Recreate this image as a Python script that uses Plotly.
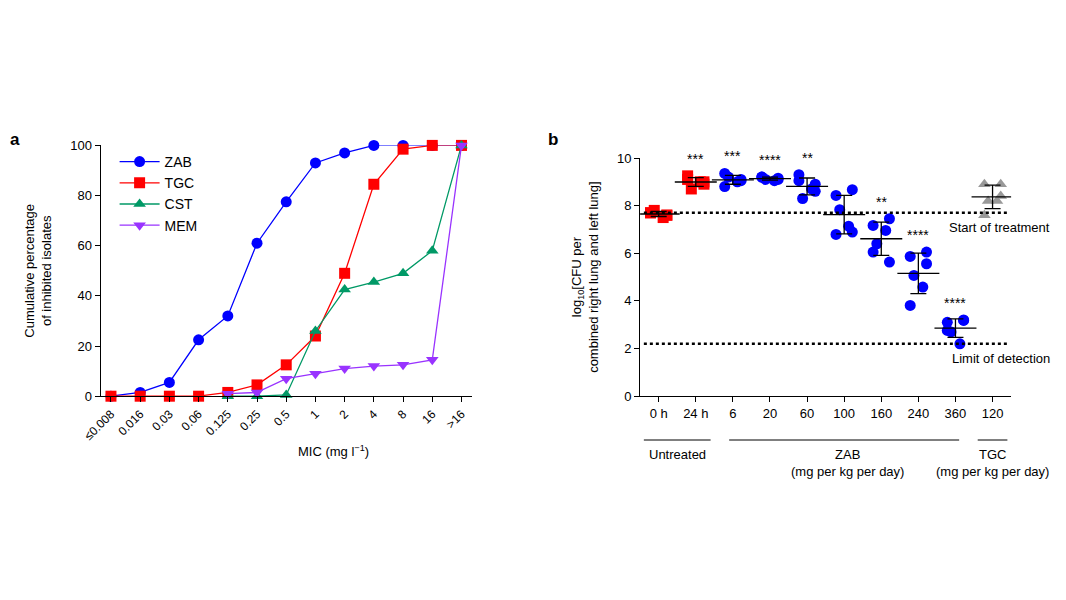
import numpy as np
import plotly.graph_objects as go

# panel a: cumulative inhibition
mic_labels = ["≤0.008", "0.016", "0.03", "0.06", "0.125", "0.25", "0.5", "1", "2", "4", "8", "16", ">16"]
zab = [0, 1.5, 5.5, 22.5, 32, 61, 77.5, 93, 97, 100, 100, 100, 100]
tgc = [0, 0, 0, 0, 1.5, 4.5, 12.5, 24, 49, 84.5, 98.5, 100, 100]
cst = [None, None, None, None, 0, 0, 0.5, 26, 42.5, 45.5, 49, 58, 100]
mem = [None, None, None, None, 1, 1.5, 7, 9, 11, 12, 12.5, 14.5, 100]

# panel b: lung CFU per group
groups = ["0 h", "24 h", "6", "20", "60", "100", "160", "240", "360", "120"]
cfu = [
    [7.7, 7.6, 7.8, 7.5, 7.7, 7.6],
    [9.25, 9.0, 8.7, 9.0, 9.1, 8.9],
    [9.35, 9.1, 9.2, 9.0, 8.8, 9.05],
    [9.2, 9.15, 9.1, 9.05, 9.2, 9.1],
    [9.3, 8.9, 8.3, 8.7, 9.05, 8.6],
    [8.43, 8.67, 7.83, 7.14, 6.79, 6.89],
    [7.17, 7.45, 6.4, 6.96, 6.05, 5.63],
    [5.87, 6.05, 5.07, 4.58, 3.81, 5.56],
    [3.1, 3.2, 2.7, 2.2, 2.76, 3.18],
    [8.9, 8.9, 8.2, 8.2, 7.6, 8.4],
]
stars = ["", "***", "***", "****", "**", "", "**", "****", "****", ""]
jitter = [-0.22, 0.22, -0.12, 0.12, -0.22, 0.22]
start_level = 7.7
lod_level = 2.2

fig = go.Figure()
for name, vals, col, sym in [("ZAB", zab, "#0000ff", "circle"), ("TGC", tgc, "#ff0000", "square"),
                             ("CST", cst, "#009966", "triangle-up"), ("MEM", mem, "#9933ff", "triangle-down")]:
    fig.add_trace(go.Scatter(x=list(range(len(mic_labels))), y=vals, name=name, mode="lines+markers",
                             line=dict(color=col, width=1.3), marker=dict(color=col, symbol=sym, size=11),
                             cliponaxis=False))

for i, vals in enumerate(cfu):
    col = "#ff0000" if i < 2 else ("#999999" if i == 9 else "#0000ff")
    sym = "square" if i < 2 else ("triangle-up" if i == 9 else "circle")
    xs = [i + j for j in jitter]
    fig.add_trace(go.Scatter(x=xs, y=vals, mode="markers", xaxis="x2", yaxis="y2", showlegend=False,
                             marker=dict(color=col, symbol=sym, size=11), cliponaxis=False))
    m, s = np.mean(vals), np.std(vals, ddof=1)
    fig.add_trace(go.Scatter(x=[i], y=[m], mode="markers", xaxis="x2", yaxis="y2", showlegend=False,
                             marker=dict(color="black", symbol="line-ew-open", size=30, line=dict(width=1.3)),
                             error_y=dict(type="data", array=[s], color="black", thickness=1.3, width=8)))
    if stars[i]:
        fig.add_annotation(x=i, y=max(vals) + 0.3, xref="x2", yref="y2", text=stars[i], showarrow=False,
                           yanchor="bottom", font=dict(size=14))

for lvl in [start_level, lod_level]:
    fig.add_shape(type="line", xref="x2", yref="y2", x0=-0.4, x1=9.4, y0=lvl, y1=lvl,
                  line=dict(color="black", width=2.5, dash="dot"))
fig.add_annotation(x=1.11, y=start_level - 0.2, xref="x2 domain", yref="y2", text="Start of treatment",
                   showarrow=False, xanchor="right", yanchor="top", font=dict(size=13))
fig.add_annotation(x=1.11, y=lod_level - 0.2, xref="x2 domain", yref="y2", text="Limit of detection",
                   showarrow=False, xanchor="right", yanchor="top", font=dict(size=13))

# group brackets below panel b
for x0, x1, xc, label in [(-0.4, 1.4, 0.5, "Untreated"), (1.9, 8.1, 5.1, "ZAB<br>(mg per kg per day)"),
                          (8.6, 9.4, 9.0, "TGC<br>(mg per kg per day)")]:
    fig.add_shape(type="line", xref="x2", yref="paper", x0=x0, x1=x1, y0=0.28, y1=0.28,
                  line=dict(color="black", width=1))
    fig.add_annotation(x=xc, y=0.272, xref="x2", yref="paper", text=label, showarrow=False, yanchor="top",
                       font=dict(size=13))

fig.add_annotation(x=0.0, y=0.8, xref="paper", yref="paper", text="<b>a</b>", showarrow=False,
                   xanchor="left", font=dict(size=17))
fig.add_annotation(x=0.505, y=0.8, xref="paper", yref="paper", text="<b>b</b>", showarrow=False,
                   xanchor="left", font=dict(size=17))
fig.add_annotation(x=0.27, y=0.262, xref="paper", yref="paper", text="MIC (mg l<sup>−1</sup>)",
                   showarrow=False, yanchor="middle", font=dict(size=13))

axis = dict(showline=True, linecolor="black", linewidth=1.2, ticks="outside", ticklen=5,
            tickcolor="black", showgrid=False, zeroline=False, tickfont=dict(size=13), automargin=False)
fig.update_layout(
    width=1066, height=600, plot_bgcolor="white", paper_bgcolor="white",
    font=dict(family="Liberation Sans, Arial", color="black", size=13),
    margin=dict(l=0, r=0, t=0, b=0),
    xaxis=dict(axis, domain=[0.087, 0.435], range=[-0.35, 12.35], tickvals=list(range(13)),
               ticktext=mic_labels, tickangle=-45, tickfont=dict(size=12)),
    yaxis=dict(axis, domain=[0.353, 0.771], range=[0, 100], tickvals=[0, 20, 40, 60, 80, 100],
               title=dict(text="Cumulative percentage<br>of inhibited isolates", font=dict(size=13))),
    xaxis2=dict(axis, domain=[0.593, 0.941], range=[-0.5, 9.5], tickvals=list(range(10)), ticktext=groups,
                anchor="y2"),
    yaxis2=dict(axis, domain=[0.353, 0.75], range=[0, 10], tickvals=[0, 2, 4, 6, 8, 10], anchor="x2",
                title=dict(text="log<sub>10</sub>[CFU per<br>combined right lung and left lung]",
                           font=dict(size=13))),
    legend=dict(x=0.1, y=0.77, xanchor="left", yanchor="top", font=dict(size=14),
                bgcolor="rgba(0,0,0,0)", itemwidth=40),
)
fig.write_html("out.html")
